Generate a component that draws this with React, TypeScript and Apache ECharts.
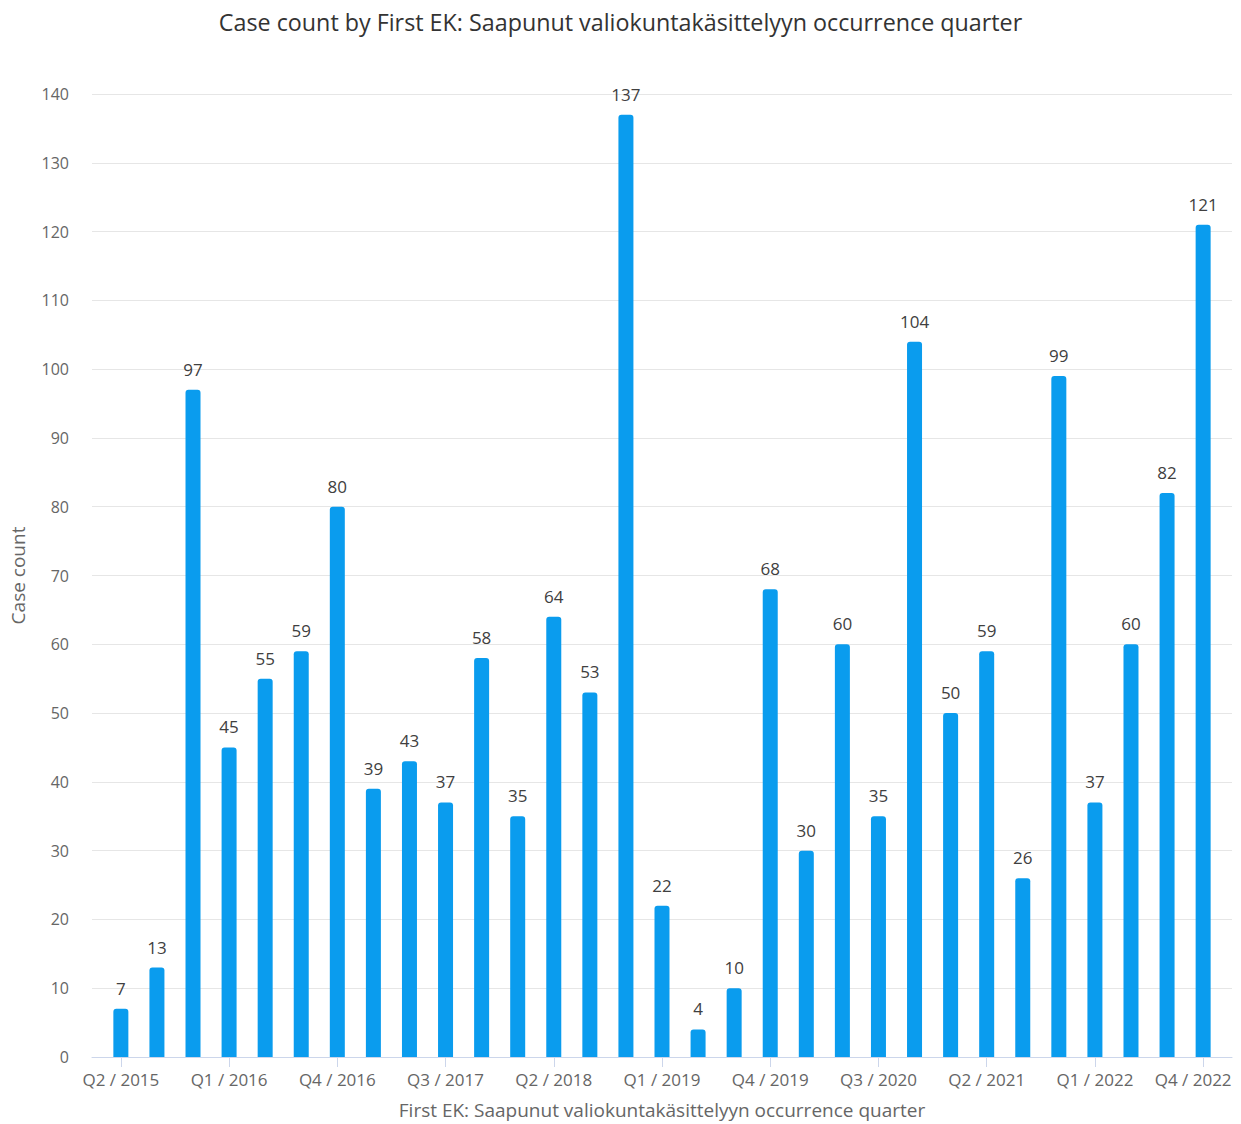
import React, { useEffect, useRef } from "react";
import * as echarts from "echarts";

// Quarters of first arrival to committee handling
const quarters: string[] = [
  "Q2 / 2015", "Q3 / 2015", "Q4 / 2015",
  "Q1 / 2016", "Q2 / 2016", "Q3 / 2016", "Q4 / 2016",
  "Q1 / 2017", "Q2 / 2017", "Q3 / 2017", "Q4 / 2017",
  "Q1 / 2018", "Q2 / 2018", "Q3 / 2018", "Q4 / 2018",
  "Q1 / 2019", "Q2 / 2019", "Q3 / 2019", "Q4 / 2019",
  "Q1 / 2020", "Q2 / 2020", "Q3 / 2020", "Q4 / 2020",
  "Q1 / 2021", "Q2 / 2021", "Q3 / 2021", "Q4 / 2021",
  "Q1 / 2022", "Q2 / 2022", "Q3 / 2022", "Q4 / 2022",
];

const caseCounts: number[] = [
  7, 13, 97, 45, 55, 59, 80, 39, 43, 37, 58, 35, 64, 53, 137, 22,
  4, 10, 68, 30, 60, 35, 104, 50, 59, 26, 99, 37, 60, 82, 121,
];

// Every third quarter gets a label and a tick
const labelledIndices: number[] = [0, 3, 6, 9, 12, 15, 18, 21, 24, 27, 30];

const titleText = "Case count by First EK: Saapunut valiokuntakäsittelyyn occurrence quarter";
const xAxisTitle = "First EK: Saapunut valiokuntakäsittelyyn occurrence quarter";
const yAxisTitle = "Case count";

const FONT = "'Open Sans', 'Noto Sans', sans-serif";

export default function App() {
  const ref = useRef<HTMLDivElement>(null);

  useEffect(() => {
    if (!ref.current) return;
    const chart = echarts.init(ref.current, undefined, { renderer: "svg" });
    const lastIndex = quarters.length - 1;

    chart.setOption({
      animation: false,
      backgroundColor: "#ffffff",
      textStyle: { fontFamily: FONT },
      title: {
        text: titleText,
        left: "center",
        top: 5,
        textStyle: { fontFamily: FONT, fontSize: 23.3, fontWeight: "normal", color: "#333333" },
      },
      grid: { left: 92, right: 9, top: 94, bottom: 65, containLabel: false },
      xAxis: {
        type: "value",
        min: -0.8,
        max: 30.8,
        name: xAxisTitle,
        nameLocation: "middle",
        nameGap: 43,
        nameTextStyle: { fontFamily: FONT, fontSize: 19, color: "#666666" },
        splitLine: { show: false },
        axisLine: { show: true, lineStyle: { color: "#ccd6eb", width: 1 } },
        axisTick: {
          show: true,
          customValues: labelledIndices,
          length: 10,
          lineStyle: { color: "#ccd6eb" },
        },
        axisLabel: {
          customValues: labelledIndices,
          // the right-most label is nudged inward so it stays inside the canvas
          formatter: (v: number) => {
            const i = Math.round(v);
            const text = quarters[i] ?? "";
            return i === lastIndex ? `{last|${text}}` : text;
          },
          rich: {
            last: { fontFamily: FONT, fontSize: 17, color: "#666666", padding: [0, 20, 0, 0] },
          },
          fontFamily: FONT,
          fontSize: 17,
          color: "#666666",
          margin: 14,
        },
      },
      yAxis: {
        type: "value",
        min: 0,
        max: 140,
        interval: 10,
        name: yAxisTitle,
        nameLocation: "middle",
        nameRotate: 90,
        nameGap: 65,
        nameTextStyle: { fontFamily: FONT, fontSize: 19, color: "#666666" },
        axisLine: { show: false },
        axisTick: { show: false },
        splitLine: { lineStyle: { color: "#e6e6e6", width: 1 } },
        axisLabel: { fontFamily: FONT, fontSize: 16, color: "#666666", margin: 23 },
      },
      series: [
        {
          type: "bar",
          data: caseCounts.map((v, i) => [i, v]),
          barWidth: 15,
          itemStyle: { color: "#0a9cee", borderRadius: [3, 3, 0, 0] },
          label: {
            show: true,
            position: "top",
            distance: 12,
            formatter: (p: any) => String(p.value[1]),
            fontFamily: FONT,
            fontSize: 17,
            color: "#404040",
          },
        },
      ],
    });

    return () => chart.dispose();
  }, []);

  return (
    <div
      ref={ref}
      style={{ position: "fixed", left: 0, top: 0, width: 1241, height: 1124 }}
    />
  );
}
